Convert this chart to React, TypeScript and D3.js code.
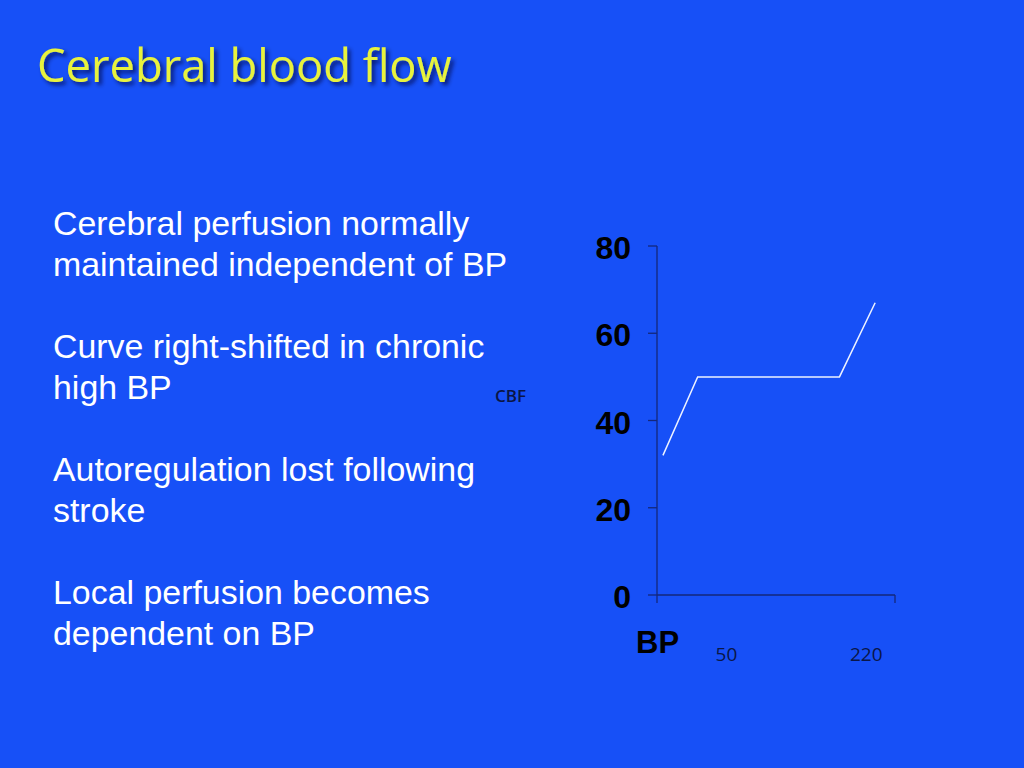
import React from 'react';
import * as d3 from 'd3';

// slide text
const title = 'Cerebral blood flow';
const bullets = [
  ['Cerebral perfusion normally', 'maintained independent of BP'],
  ['Curve right-shifted in chronic', 'high BP'],
  ['Autoregulation lost following', 'stroke'],
  ['Local perfusion becomes', 'dependent on BP'],
];

// chart data
const cbfTicks = [0, 20, 40, 60, 80];
const bpValues = [6, 41, 184, 220];
const cbfValues = [32, 50, 50, 67];
const bpLabels = ['50', '220'];
const bpLabelAt = [70, 211];

const W = 1024;
const H = 768;
const BG = '#1750f7';
const AXIS = '#14277a';

export default function App() {
  const x = d3.scaleLinear().domain([0, 240]).range([657, 895]);
  const y = d3.scaleLinear().domain([0, 80]).range([595, 246]);

  const pts = bpValues.map((b, i) => [b, cbfValues[i]] as [number, number]);
  const line = d3.line<[number, number]>()
    .x(d => x(d[0]))
    .y(d => y(d[1]));

  return (
    <svg
      width={W}
      height={H}
      style={{ position: 'fixed', left: 0, top: 0 }}
    >
      <defs>
        <filter id="shadow" x="-10%" y="-30%" width="130%" height="180%">
          <feDropShadow dx="3" dy="3" stdDeviation="2" floodColor="#000033" floodOpacity="0.7" />
        </filter>
      </defs>
      <rect width={W} height={H} fill={BG} />

      {/* title */}
      <text
        x={37}
        y={82}
        fill="#e8f23e"
        fontFamily="'Open Sans', 'Noto Sans', sans-serif"
        fontSize={45.3}
        filter="url(#shadow)"
      >
        {title}
      </text>

      {/* bullet text */}
      {bullets.map((lines, i) =>
        lines.map((t, j) => (
          <text
            key={`${i}-${j}`}
            x={53}
            y={235 + i * 123 + j * 41}
            fill="#ffffff"
            fontFamily="'Liberation Sans', Arial, sans-serif"
            fontSize={33.9}
          >
            {t}
          </text>
        ))
      )}

      {/* y axis */}
      <line x1={x(0)} x2={x(0)} y1={y(80)} y2={y(0) + 8} stroke={AXIS} strokeWidth={1.3} />
      {cbfTicks.map(t => (
        <g key={t}>
          <line x1={x(0) - 9} x2={x(0)} y1={y(t)} y2={y(t)} stroke={AXIS} strokeWidth={1.3} />
          <text
            x={631}
            y={y(t) + 13}
            textAnchor="end"
            fill="#000000"
            fontFamily="'Liberation Sans', Arial, sans-serif"
            fontWeight="bold"
            fontSize={32}
          >
            {t}
          </text>
        </g>
      ))}

      {/* x axis */}
      <line x1={x(240)} x2={x(240)} y1={y(0)} y2={y(0) + 8} stroke={AXIS} strokeWidth={1.3} />
      <line x1={x(0)} x2={x(240)} y1={y(0)} y2={y(0)} stroke={AXIS} strokeWidth={1.3} />
      {bpLabels.map((l, i) => (
        <text
          key={l}
          x={x(bpLabelAt[i])}
          y={661}
          textAnchor="middle"
          fill="#0a1648"
          fontFamily="'Open Sans', sans-serif"
          fontSize={19}
        >
          {l}
        </text>
      ))}
      <text
        x={636}
        y={653}
        fill="#000000"
        fontFamily="'Liberation Sans', Arial, sans-serif"
        fontWeight="bold"
        fontSize={31}
      >
        BP
      </text>
      <text
        x={495}
        y={402}
        fill="#0a1545"
        fontFamily="'Open Sans', sans-serif"
        fontWeight={600}
        fontSize={17}
      >
        CBF
      </text>

      {/* autoregulation curve */}
      <path d={line(pts) ?? ''} fill="none" stroke="#eef2ff" strokeWidth={1.5} />
    </svg>
  );
}
